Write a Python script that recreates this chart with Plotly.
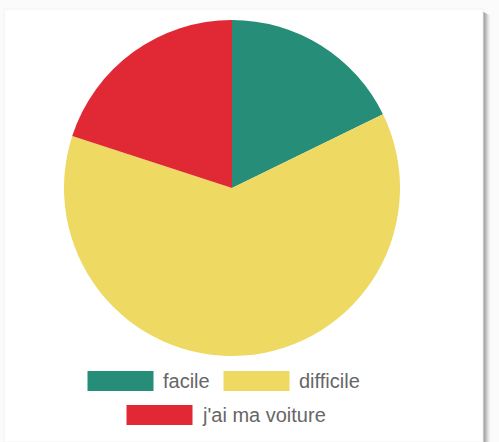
import plotly.graph_objects as go

# Survey answers
labels = ["facile", "difficile", "j'ai ma voiture"]
values = [8, 28, 9]
colors = ["#258D78", "#EEDA62", "#E12936"]

W, H = 499, 442


def px(x):
    return x / W


def py(y):
    return 1 - y / H


fig = go.Figure()

# Pie: centre (232, 188), radius 168 in page pixels
fig.add_trace(go.Pie(
    labels=labels,
    values=values,
    marker=dict(colors=colors, line=dict(width=0)),
    sort=False,
    direction="clockwise",
    rotation=0,
    textinfo="none",
    hoverinfo="label+value",
    domain=dict(x=[px(64), px(400)], y=[py(356), py(20)]),
    showlegend=False,
))

shapes = []
# page backdrop and card
shapes.append(dict(type="rect", xref="paper", yref="paper", x0=0, x1=1, y0=0, y1=1,
                   fillcolor="#fbfbfb", line=dict(width=0), layer="below"))
# card shadow on the right edge (fading strips)
shadow = ["#9a9a9a", "#a8a8a8", "#b8b8b8", "#c8c8c8", "#d8d8d8", "#e6e6e6", "#f0f0f0", "#f8f8f8"]
for i, c in enumerate(shadow):
    shapes.append(dict(type="rect", xref="paper", yref="paper",
                       x0=px(483 + i), x1=px(484 + i), y0=0, y1=py(12 + i * 0.5),
                       fillcolor=c, line=dict(width=0), layer="below"))
shapes.append(dict(type="rect", xref="paper", yref="paper",
                   x0=px(4), x1=px(483), y0=0, y1=py(9),
                   fillcolor="white", line=dict(color="#f2f2f2", width=1), layer="below"))

# legend: swatch boxes followed by labels
legend_pos = [(87, 381), (223, 381), (126, 415)]
annotations = []
for (x, yc), lab, col in zip(legend_pos, labels, colors):
    shapes.append(dict(type="rect", xref="paper", yref="paper",
                       x0=px(x), x1=px(x + 67), y0=py(yc + 10.5), y1=py(yc - 10.5),
                       fillcolor=col, line=dict(color="white", width=1)))
    annotations.append(dict(xref="paper", yref="paper", x=px(x + 74), y=py(yc),
                            xanchor="left", yanchor="middle", text=lab, showarrow=False,
                            font=dict(family="Liberation Sans, Arial, sans-serif",
                                      size=20, color="#666666")))

fig.update_layout(
    width=W, height=H,
    margin=dict(l=0, r=0, t=0, b=0),
    paper_bgcolor="white",
    plot_bgcolor="white",
    shapes=shapes,
    annotations=annotations,
)

fig.write_html("out.html")
